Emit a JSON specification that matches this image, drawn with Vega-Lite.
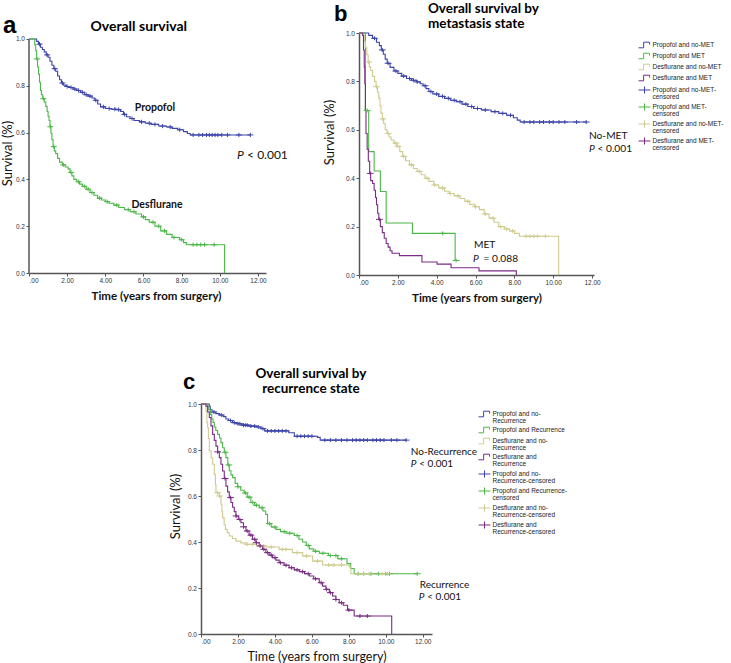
{
"$schema": "https://vega.github.io/schema/vega-lite/v6.json",
"background": "white",
"padding": {"left": 1, "top": 1, "right": 0, "bottom": 0},
"config": {
  "view": {"stroke": null},
  "font": "Lato",
  "style": {"guide-label": {"lineHeight": 6.5}},
  "axis": {"domainColor": "#555", "domainWidth": 1.5, "tickColor": "#555", "tickSize": 3, "tickWidth": 1, "labelFont": "Liberation Sans", "labelFontSize": 6.5, "labelColor": "#333", "labelPadding": 1.5, "grid": false, "titleFont": "Lato", "titleColor": "#111", "titleFontWeight": "normal", "titleFontSize": 13}
},
"datasets": {
"a_line": [
{"k":"P","t":0,"s":1},{"k":"P","t":0.32,"s":1},{"k":"P","t":0.4,"s":0.99},{"k":"P","t":0.5,"s":0.978},{"k":"P","t":0.6,"s":0.965},{"k":"P","t":0.7,"s":0.955},{"k":"P","t":0.8,"s":0.945},{"k":"P","t":0.9,"s":0.932},{"k":"P","t":1.0,"s":0.922},{"k":"P","t":1.1,"s":0.905},{"k":"P","t":1.2,"s":0.888},{"k":"P","t":1.3,"s":0.873},{"k":"P","t":1.4,"s":0.862},{"k":"P","t":1.5,"s":0.842},{"k":"P","t":1.6,"s":0.826},{"k":"P","t":1.7,"s":0.812},{"k":"P","t":1.8,"s":0.803},{"k":"P","t":1.95,"s":0.797},{"k":"P","t":2.1,"s":0.793},{"k":"P","t":2.3,"s":0.786},{"k":"P","t":2.5,"s":0.78},{"k":"P","t":2.7,"s":0.772},{"k":"P","t":2.9,"s":0.762},{"k":"P","t":3.1,"s":0.756},{"k":"P","t":3.3,"s":0.748},{"k":"P","t":3.45,"s":0.738},{"k":"P","t":3.6,"s":0.722},{"k":"P","t":3.75,"s":0.71},{"k":"P","t":4.0,"s":0.703},{"k":"P","t":4.3,"s":0.7},{"k":"P","t":4.6,"s":0.698},{"k":"P","t":4.8,"s":0.69},{"k":"P","t":4.95,"s":0.678},{"k":"P","t":5.1,"s":0.668},{"k":"P","t":5.3,"s":0.66},{"k":"P","t":5.5,"s":0.652},{"k":"P","t":5.8,"s":0.646},{"k":"P","t":6.1,"s":0.64},{"k":"P","t":6.4,"s":0.635},{"k":"P","t":6.8,"s":0.628},{"k":"P","t":7.2,"s":0.624},{"k":"P","t":7.5,"s":0.618},{"k":"P","t":7.8,"s":0.612},{"k":"P","t":8.1,"s":0.604},{"k":"P","t":8.3,"s":0.596},{"k":"P","t":8.45,"s":0.59},{"k":"P","t":11.6,"s":0.59},
{"k":"D","t":0,"s":1},{"k":"D","t":0.26,"s":1},{"k":"D","t":0.3,"s":0.975},{"k":"D","t":0.35,"s":0.95},{"k":"D","t":0.4,"s":0.915},{"k":"D","t":0.45,"s":0.88},{"k":"D","t":0.5,"s":0.85},{"k":"D","t":0.55,"s":0.815},{"k":"D","t":0.6,"s":0.78},{"k":"D","t":0.65,"s":0.762},{"k":"D","t":0.72,"s":0.745},{"k":"D","t":0.8,"s":0.73},{"k":"D","t":0.88,"s":0.712},{"k":"D","t":0.95,"s":0.69},{"k":"D","t":1.0,"s":0.67},{"k":"D","t":1.05,"s":0.652},{"k":"D","t":1.1,"s":0.625},{"k":"D","t":1.15,"s":0.597},{"k":"D","t":1.2,"s":0.57},{"k":"D","t":1.26,"s":0.54},{"k":"D","t":1.33,"s":0.522},{"k":"D","t":1.4,"s":0.51},{"k":"D","t":1.5,"s":0.49},{"k":"D","t":1.6,"s":0.474},{"k":"D","t":1.75,"s":0.462},{"k":"D","t":1.9,"s":0.453},{"k":"D","t":2.05,"s":0.445},{"k":"D","t":2.15,"s":0.43},{"k":"D","t":2.25,"s":0.415},{"k":"D","t":2.35,"s":0.4},{"k":"D","t":2.5,"s":0.39},{"k":"D","t":2.65,"s":0.38},{"k":"D","t":2.8,"s":0.37},{"k":"D","t":3.0,"s":0.358},{"k":"D","t":3.2,"s":0.344},{"k":"D","t":3.4,"s":0.332},{"k":"D","t":3.6,"s":0.32},{"k":"D","t":3.8,"s":0.312},{"k":"D","t":4.0,"s":0.305},{"k":"D","t":4.2,"s":0.298},{"k":"D","t":4.45,"s":0.29},{"k":"D","t":4.7,"s":0.28},{"k":"D","t":5.0,"s":0.271},{"k":"D","t":5.3,"s":0.262},{"k":"D","t":5.6,"s":0.252},{"k":"D","t":5.9,"s":0.24},{"k":"D","t":6.1,"s":0.228},{"k":"D","t":6.3,"s":0.217},{"k":"D","t":6.6,"s":0.2},{"k":"D","t":6.9,"s":0.18},{"k":"D","t":7.2,"s":0.165},{"k":"D","t":7.5,"s":0.152},{"k":"D","t":7.9,"s":0.142},{"k":"D","t":8.1,"s":0.13},{"k":"D","t":8.25,"s":0.121},{"k":"D","t":10.25,"s":0}
],
"a_cens": [
{"k":"P","t":0.55,"s":0.978},{"k":"P","t":0.95,"s":0.932},{"k":"P","t":1.35,"s":0.873},{"k":"P","t":1.75,"s":0.812},{"k":"P","t":2.0,"s":0.797},{"k":"P","t":2.2,"s":0.793},{"k":"P","t":2.4,"s":0.786},{"k":"P","t":2.6,"s":0.78},{"k":"P","t":2.8,"s":0.772},{"k":"P","t":3.0,"s":0.762},{"k":"P","t":3.2,"s":0.756},{"k":"P","t":3.5,"s":0.738},{"k":"P","t":3.9,"s":0.71},{"k":"P","t":4.2,"s":0.703},{"k":"P","t":4.5,"s":0.7},{"k":"P","t":4.7,"s":0.698},{"k":"P","t":5.0,"s":0.678},{"k":"P","t":5.4,"s":0.66},{"k":"P","t":5.9,"s":0.646},{"k":"P","t":6.3,"s":0.64},{"k":"P","t":6.6,"s":0.635},{"k":"P","t":7.0,"s":0.628},{"k":"P","t":7.4,"s":0.624},{"k":"P","t":7.9,"s":0.612},{"k":"P","t":8.6,"s":0.59},{"k":"P","t":8.9,"s":0.59},{"k":"P","t":9.1,"s":0.59},{"k":"P","t":9.3,"s":0.59},{"k":"P","t":9.45,"s":0.59},{"k":"P","t":9.6,"s":0.59},{"k":"P","t":9.75,"s":0.59},{"k":"P","t":9.9,"s":0.59},{"k":"P","t":10.1,"s":0.59},{"k":"P","t":10.4,"s":0.59},{"k":"P","t":11.0,"s":0.59},{"k":"P","t":11.6,"s":0.59},
{"k":"D","t":0.42,"s":0.915},{"k":"D","t":0.75,"s":0.745},{"k":"D","t":1.12,"s":0.625},{"k":"D","t":1.3,"s":0.54},{"k":"D","t":1.8,"s":0.462},{"k":"D","t":2.2,"s":0.43},{"k":"D","t":2.6,"s":0.39},{"k":"D","t":2.9,"s":0.37},{"k":"D","t":3.1,"s":0.358},{"k":"D","t":3.3,"s":0.344},{"k":"D","t":3.7,"s":0.32},{"k":"D","t":4.1,"s":0.305},{"k":"D","t":4.6,"s":0.29},{"k":"D","t":5.2,"s":0.271},{"k":"D","t":5.5,"s":0.262},{"k":"D","t":6.0,"s":0.24},{"k":"D","t":6.5,"s":0.217},{"k":"D","t":6.8,"s":0.2},{"k":"D","t":7.1,"s":0.18},{"k":"D","t":7.6,"s":0.152},{"k":"D","t":8.0,"s":0.142},{"k":"D","t":8.6,"s":0.121},{"k":"D","t":8.8,"s":0.121},{"k":"D","t":9.0,"s":0.121},{"k":"D","t":9.2,"s":0.121},{"k":"D","t":9.7,"s":0.121}
],
"b_line": [
{"k":"P0","t":0,"s":1},{"k":"P0","t":0.36,"s":1},{"k":"P0","t":0.5,"s":0.99},{"k":"P0","t":0.7,"s":0.978},{"k":"P0","t":0.9,"s":0.962},{"k":"P0","t":1.05,"s":0.948},{"k":"P0","t":1.15,"s":0.93},{"k":"P0","t":1.25,"s":0.912},{"k":"P0","t":1.35,"s":0.892},{"k":"P0","t":1.45,"s":0.875},{"k":"P0","t":1.6,"s":0.858},{"k":"P0","t":1.8,"s":0.843},{"k":"P0","t":2.0,"s":0.833},{"k":"P0","t":2.2,"s":0.822},{"k":"P0","t":2.45,"s":0.812},{"k":"P0","t":2.7,"s":0.805},{"k":"P0","t":2.95,"s":0.798},{"k":"P0","t":3.15,"s":0.79},{"k":"P0","t":3.3,"s":0.782},{"k":"P0","t":3.45,"s":0.77},{"k":"P0","t":3.6,"s":0.758},{"k":"P0","t":3.8,"s":0.748},{"k":"P0","t":4.1,"s":0.738},{"k":"P0","t":4.4,"s":0.73},{"k":"P0","t":4.7,"s":0.722},{"k":"P0","t":5.0,"s":0.716},{"k":"P0","t":5.3,"s":0.706},{"k":"P0","t":5.6,"s":0.696},{"k":"P0","t":5.9,"s":0.688},{"k":"P0","t":6.3,"s":0.682},{"k":"P0","t":6.8,"s":0.675},{"k":"P0","t":7.2,"s":0.668},{"k":"P0","t":7.6,"s":0.66},{"k":"P0","t":7.95,"s":0.65},{"k":"P0","t":8.15,"s":0.64},{"k":"P0","t":8.3,"s":0.632},{"k":"P0","t":11.7,"s":0.632},
{"k":"P1","t":0,"s":1},{"k":"P1","t":0.33,"s":0.68},{"k":"P1","t":0.5,"s":0.51},{"k":"P1","t":0.78,"s":0.43},{"k":"P1","t":1.1,"s":0.345},{"k":"P1","t":1.4,"s":0.215},{"k":"P1","t":2.75,"s":0.172},{"k":"P1","t":4.95,"s":0.06},{"k":"P1","t":5.0,"s":0.06},
{"k":"D0","t":0,"s":1},{"k":"D0","t":0.2,"s":0.99},{"k":"D0","t":0.27,"s":0.965},{"k":"D0","t":0.33,"s":0.94},{"k":"D0","t":0.4,"s":0.91},{"k":"D0","t":0.47,"s":0.88},{"k":"D0","t":0.53,"s":0.86},{"k":"D0","t":0.6,"s":0.845},{"k":"D0","t":0.7,"s":0.82},{"k":"D0","t":0.8,"s":0.8},{"k":"D0","t":0.88,"s":0.778},{"k":"D0","t":0.95,"s":0.755},{"k":"D0","t":1.02,"s":0.73},{"k":"D0","t":1.08,"s":0.7},{"k":"D0","t":1.13,"s":0.668},{"k":"D0","t":1.2,"s":0.645},{"k":"D0","t":1.27,"s":0.625},{"k":"D0","t":1.35,"s":0.6},{"k":"D0","t":1.45,"s":0.585},{"k":"D0","t":1.55,"s":0.57},{"k":"D0","t":1.65,"s":0.558},{"k":"D0","t":1.8,"s":0.545},{"k":"D0","t":1.95,"s":0.532},{"k":"D0","t":2.1,"s":0.51},{"k":"D0","t":2.25,"s":0.49},{"k":"D0","t":2.4,"s":0.472},{"k":"D0","t":2.6,"s":0.455},{"k":"D0","t":2.8,"s":0.44},{"k":"D0","t":3.0,"s":0.428},{"k":"D0","t":3.2,"s":0.414},{"k":"D0","t":3.4,"s":0.4},{"k":"D0","t":3.6,"s":0.387},{"k":"D0","t":3.85,"s":0.372},{"k":"D0","t":4.1,"s":0.36},{"k":"D0","t":4.4,"s":0.346},{"k":"D0","t":4.65,"s":0.337},{"k":"D0","t":4.9,"s":0.327},{"k":"D0","t":5.2,"s":0.316},{"k":"D0","t":5.45,"s":0.305},{"k":"D0","t":5.7,"s":0.292},{"k":"D0","t":5.95,"s":0.282},{"k":"D0","t":6.2,"s":0.27},{"k":"D0","t":6.45,"s":0.252},{"k":"D0","t":6.7,"s":0.235},{"k":"D0","t":6.95,"s":0.218},{"k":"D0","t":7.2,"s":0.2},{"k":"D0","t":7.5,"s":0.19},{"k":"D0","t":7.75,"s":0.182},{"k":"D0","t":8.0,"s":0.172},{"k":"D0","t":8.25,"s":0.16},{"k":"D0","t":10.28,"s":0},
{"k":"D1","t":0,"s":1},{"k":"D1","t":0.19,"s":0.99},{"k":"D1","t":0.23,"s":0.93},{"k":"D1","t":0.27,"s":0.86},{"k":"D1","t":0.3,"s":0.79},{"k":"D1","t":0.33,"s":0.68},{"k":"D1","t":0.36,"s":0.585},{"k":"D1","t":0.42,"s":0.52},{"k":"D1","t":0.48,"s":0.47},{"k":"D1","t":0.55,"s":0.42},{"k":"D1","t":0.6,"s":0.39},{"k":"D1","t":0.7,"s":0.378},{"k":"D1","t":0.78,"s":0.35},{"k":"D1","t":0.85,"s":0.32},{"k":"D1","t":0.9,"s":0.29},{"k":"D1","t":0.96,"s":0.255},{"k":"D1","t":1.02,"s":0.23},{"k":"D1","t":1.1,"s":0.2},{"k":"D1","t":1.2,"s":0.175},{"k":"D1","t":1.3,"s":0.152},{"k":"D1","t":1.4,"s":0.13},{"k":"D1","t":1.5,"s":0.115},{"k":"D1","t":1.6,"s":0.1},{"k":"D1","t":1.7,"s":0.09},{"k":"D1","t":2.08,"s":0.08},{"k":"D1","t":3.24,"s":0.054},{"k":"D1","t":4.02,"s":0.045},{"k":"D1","t":4.74,"s":0.03},{"k":"D1","t":6.18,"s":0.017},{"k":"D1","t":8.1,"s":0}
],
"b_cens": [
{"k":"P0c","t":0.8,"s":0.978},{"k":"P0c","t":1.2,"s":0.93},{"k":"P0c","t":1.5,"s":0.875},{"k":"P0c","t":1.9,"s":0.843},{"k":"P0c","t":2.3,"s":0.822},{"k":"P0c","t":2.6,"s":0.812},{"k":"P0c","t":2.8,"s":0.805},{"k":"P0c","t":3.0,"s":0.798},{"k":"P0c","t":3.4,"s":0.782},{"k":"P0c","t":3.7,"s":0.758},{"k":"P0c","t":4.0,"s":0.748},{"k":"P0c","t":4.3,"s":0.738},{"k":"P0c","t":4.6,"s":0.73},{"k":"P0c","t":4.9,"s":0.722},{"k":"P0c","t":5.2,"s":0.716},{"k":"P0c","t":5.5,"s":0.706},{"k":"P0c","t":5.8,"s":0.696},{"k":"P0c","t":6.1,"s":0.688},{"k":"P0c","t":6.5,"s":0.682},{"k":"P0c","t":7.0,"s":0.675},{"k":"P0c","t":7.4,"s":0.668},{"k":"P0c","t":7.8,"s":0.66},{"k":"P0c","t":8.5,"s":0.632},{"k":"P0c","t":8.8,"s":0.632},{"k":"P0c","t":9.0,"s":0.632},{"k":"P0c","t":9.3,"s":0.632},{"k":"P0c","t":9.5,"s":0.632},{"k":"P0c","t":9.8,"s":0.632},{"k":"P0c","t":10.0,"s":0.632},{"k":"P0c","t":10.3,"s":0.632},{"k":"P0c","t":10.6,"s":0.632},{"k":"P0c","t":11.2,"s":0.632},{"k":"P0c","t":11.7,"s":0.632},
{"k":"P1c","t":0.42,"s":0.68},{"k":"P1c","t":4.31,"s":0.172},{"k":"P1c","t":5.0,"s":0.06},
{"k":"D0c","t":0.5,"s":0.88},{"k":"D0c","t":0.9,"s":0.778},{"k":"D0c","t":1.22,"s":0.645},{"k":"D0c","t":1.5,"s":0.585},{"k":"D0c","t":1.9,"s":0.545},{"k":"D0c","t":2.0,"s":0.532},{"k":"D0c","t":2.3,"s":0.49},{"k":"D0c","t":2.7,"s":0.455},{"k":"D0c","t":3.1,"s":0.428},{"k":"D0c","t":3.5,"s":0.4},{"k":"D0c","t":3.9,"s":0.372},{"k":"D0c","t":4.3,"s":0.36},{"k":"D0c","t":4.7,"s":0.337},{"k":"D0c","t":5.1,"s":0.327},{"k":"D0c","t":5.6,"s":0.305},{"k":"D0c","t":6.0,"s":0.282},{"k":"D0c","t":6.5,"s":0.252},{"k":"D0c","t":6.9,"s":0.235},{"k":"D0c","t":7.3,"s":0.2},{"k":"D0c","t":7.6,"s":0.19},{"k":"D0c","t":7.9,"s":0.182},{"k":"D0c","t":8.6,"s":0.16},{"k":"D0c","t":8.8,"s":0.16},{"k":"D0c","t":9.0,"s":0.16},{"k":"D0c","t":9.2,"s":0.16},{"k":"D0c","t":9.6,"s":0.16},
{"k":"D1c","t":0.58,"s":0.42},{"k":"D1c","t":1.05,"s":0.23}
],
"c_line": [
{"k":"P0","t":0,"s":1},{"k":"P0","t":0.45,"s":0.99},{"k":"P0","t":0.5,"s":0.975},{"k":"P0","t":0.6,"s":0.965},{"k":"P0","t":0.8,"s":0.958},{"k":"P0","t":1.0,"s":0.952},{"k":"P0","t":1.2,"s":0.945},{"k":"P0","t":1.35,"s":0.935},{"k":"P0","t":1.5,"s":0.928},{"k":"P0","t":1.7,"s":0.919},{"k":"P0","t":1.95,"s":0.914},{"k":"P0","t":2.2,"s":0.908},{"k":"P0","t":2.6,"s":0.904},{"k":"P0","t":3.0,"s":0.9},{"k":"P0","t":3.25,"s":0.893},{"k":"P0","t":3.45,"s":0.883},{"k":"P0","t":4.75,"s":0.875},{"k":"P0","t":5.05,"s":0.86},{"k":"P0","t":6.3,"s":0.855},{"k":"P0","t":6.45,"s":0.843},{"k":"P0","t":11.1,"s":0.843},
{"k":"P1","t":0,"s":1},{"k":"P1","t":0.36,"s":0.99},{"k":"P1","t":0.42,"s":0.975},{"k":"P1","t":0.5,"s":0.955},{"k":"P1","t":0.58,"s":0.935},{"k":"P1","t":0.65,"s":0.92},{"k":"P1","t":0.72,"s":0.9},{"k":"P1","t":0.8,"s":0.885},{"k":"P1","t":0.9,"s":0.868},{"k":"P1","t":1.0,"s":0.852},{"k":"P1","t":1.08,"s":0.832},{"k":"P1","t":1.17,"s":0.81},{"k":"P1","t":1.26,"s":0.79},{"k":"P1","t":1.35,"s":0.767},{"k":"P1","t":1.45,"s":0.735},{"k":"P1","t":1.53,"s":0.71},{"k":"P1","t":1.62,"s":0.692},{"k":"P1","t":1.71,"s":0.68},{"k":"P1","t":1.85,"s":0.655},{"k":"P1","t":1.98,"s":0.64},{"k":"P1","t":2.15,"s":0.625},{"k":"P1","t":2.34,"s":0.613},{"k":"P1","t":2.5,"s":0.595},{"k":"P1","t":2.7,"s":0.572},{"k":"P1","t":2.9,"s":0.56},{"k":"P1","t":3.15,"s":0.549},{"k":"P1","t":3.35,"s":0.535},{"k":"P1","t":3.5,"s":0.52},{"k":"P1","t":3.6,"s":0.48},{"k":"P1","t":3.8,"s":0.465},{"k":"P1","t":4.05,"s":0.455},{"k":"P1","t":4.3,"s":0.445},{"k":"P1","t":4.6,"s":0.438},{"k":"P1","t":5.05,"s":0.428},{"k":"P1","t":5.3,"s":0.412},{"k":"P1","t":5.5,"s":0.4},{"k":"P1","t":5.7,"s":0.385},{"k":"P1","t":5.86,"s":0.37},{"k":"P1","t":6.1,"s":0.36},{"k":"P1","t":6.4,"s":0.351},{"k":"P1","t":6.9,"s":0.341},{"k":"P1","t":7.4,"s":0.327},{"k":"P1","t":7.9,"s":0.306},{"k":"P1","t":8.1,"s":0.285},{"k":"P1","t":8.29,"s":0.262},{"k":"P1","t":11.7,"s":0.262},
{"k":"D0","t":0,"s":1},{"k":"D0","t":0.27,"s":0.97},{"k":"D0","t":0.32,"s":0.92},{"k":"D0","t":0.36,"s":0.897},{"k":"D0","t":0.4,"s":0.85},{"k":"D0","t":0.45,"s":0.796},{"k":"D0","t":0.55,"s":0.765},{"k":"D0","t":0.63,"s":0.738},{"k":"D0","t":0.72,"s":0.694},{"k":"D0","t":0.78,"s":0.65},{"k":"D0","t":0.81,"s":0.614},{"k":"D0","t":0.99,"s":0.6},{"k":"D0","t":1.08,"s":0.564},{"k":"D0","t":1.13,"s":0.535},{"k":"D0","t":1.17,"s":0.506},{"k":"D0","t":1.25,"s":0.475},{"k":"D0","t":1.32,"s":0.455},{"k":"D0","t":1.42,"s":0.44},{"k":"D0","t":1.53,"s":0.426},{"k":"D0","t":1.7,"s":0.415},{"k":"D0","t":1.89,"s":0.404},{"k":"D0","t":2.15,"s":0.396},{"k":"D0","t":2.43,"s":0.39},{"k":"D0","t":3.0,"s":0.383},{"k":"D0","t":3.51,"s":0.378},{"k":"D0","t":4.23,"s":0.368},{"k":"D0","t":4.95,"s":0.354},{"k":"D0","t":5.5,"s":0.339},{"k":"D0","t":6.04,"s":0.317},{"k":"D0","t":6.58,"s":0.3},{"k":"D0","t":8.02,"s":0.291},{"k":"D0","t":8.11,"s":0.262},{"k":"D0","t":10.1,"s":0.262},
{"k":"D1","t":0,"s":1},{"k":"D1","t":0.27,"s":0.99},{"k":"D1","t":0.36,"s":0.965},{"k":"D1","t":0.45,"s":0.941},{"k":"D1","t":0.54,"s":0.905},{"k":"D1","t":0.63,"s":0.868},{"k":"D1","t":0.72,"s":0.842},{"k":"D1","t":0.81,"s":0.817},{"k":"D1","t":0.9,"s":0.792},{"k":"D1","t":0.99,"s":0.767},{"k":"D1","t":1.08,"s":0.738},{"k":"D1","t":1.17,"s":0.709},{"k":"D1","t":1.26,"s":0.676},{"k":"D1","t":1.35,"s":0.643},{"k":"D1","t":1.44,"s":0.618},{"k":"D1","t":1.53,"s":0.593},{"k":"D1","t":1.62,"s":0.572},{"k":"D1","t":1.71,"s":0.551},{"k":"D1","t":1.8,"s":0.532},{"k":"D1","t":1.89,"s":0.513},{"k":"D1","t":2.02,"s":0.498},{"k":"D1","t":2.16,"s":0.484},{"k":"D1","t":2.3,"s":0.466},{"k":"D1","t":2.43,"s":0.448},{"k":"D1","t":2.6,"s":0.43},{"k":"D1","t":2.79,"s":0.412},{"k":"D1","t":2.97,"s":0.397},{"k":"D1","t":3.15,"s":0.383},{"k":"D1","t":3.33,"s":0.368},{"k":"D1","t":3.51,"s":0.354},{"k":"D1","t":3.69,"s":0.343},{"k":"D1","t":3.87,"s":0.332},{"k":"D1","t":4.05,"s":0.321},{"k":"D1","t":4.23,"s":0.31},{"k":"D1","t":4.5,"s":0.299},{"k":"D1","t":4.77,"s":0.288},{"k":"D1","t":5.05,"s":0.279},{"k":"D1","t":5.32,"s":0.271},{"k":"D1","t":5.6,"s":0.262},{"k":"D1","t":5.86,"s":0.252},{"k":"D1","t":6.1,"s":0.24},{"k":"D1","t":6.4,"s":0.223},{"k":"D1","t":6.58,"s":0.208},{"k":"D1","t":6.76,"s":0.194},{"k":"D1","t":6.94,"s":0.18},{"k":"D1","t":7.12,"s":0.165},{"k":"D1","t":7.3,"s":0.15},{"k":"D1","t":7.48,"s":0.136},{"k":"D1","t":7.7,"s":0.125},{"k":"D1","t":7.93,"s":0.104},{"k":"D1","t":8.29,"s":0.078},{"k":"D1","t":10.32,"s":0}
],
"c_cens": [
{"k":"P0c","t":0.7,"s":0.965},{"k":"P0c","t":1.1,"s":0.952},{"k":"P0c","t":1.6,"s":0.928},{"k":"P0c","t":1.8,"s":0.919},{"k":"P0c","t":2.0,"s":0.914},{"k":"P0c","t":2.1,"s":0.914},{"k":"P0c","t":2.3,"s":0.908},{"k":"P0c","t":2.4,"s":0.908},{"k":"P0c","t":2.5,"s":0.908},{"k":"P0c","t":2.7,"s":0.904},{"k":"P0c","t":2.9,"s":0.904},{"k":"P0c","t":3.1,"s":0.9},{"k":"P0c","t":3.35,"s":0.893},{"k":"P0c","t":3.6,"s":0.883},{"k":"P0c","t":3.8,"s":0.883},{"k":"P0c","t":4.0,"s":0.883},{"k":"P0c","t":4.2,"s":0.883},{"k":"P0c","t":4.4,"s":0.883},{"k":"P0c","t":4.6,"s":0.883},{"k":"P0c","t":5.2,"s":0.86},{"k":"P0c","t":5.4,"s":0.86},{"k":"P0c","t":5.6,"s":0.86},{"k":"P0c","t":5.8,"s":0.86},{"k":"P0c","t":6.0,"s":0.86},{"k":"P0c","t":6.7,"s":0.843},{"k":"P0c","t":7.0,"s":0.843},{"k":"P0c","t":7.3,"s":0.843},{"k":"P0c","t":7.6,"s":0.843},{"k":"P0c","t":7.9,"s":0.843},{"k":"P0c","t":8.2,"s":0.843},{"k":"P0c","t":8.4,"s":0.843},{"k":"P0c","t":8.6,"s":0.843},{"k":"P0c","t":8.8,"s":0.843},{"k":"P0c","t":9.0,"s":0.843},{"k":"P0c","t":9.3,"s":0.843},{"k":"P0c","t":9.5,"s":0.843},{"k":"P0c","t":9.7,"s":0.843},{"k":"P0c","t":9.9,"s":0.843},{"k":"P0c","t":10.3,"s":0.843},{"k":"P0c","t":10.6,"s":0.843},{"k":"P0c","t":11.1,"s":0.843},
{"k":"P1c","t":1.3,"s":0.79},{"k":"P1c","t":1.5,"s":0.735},{"k":"P1c","t":2.0,"s":0.64},{"k":"P1c","t":2.4,"s":0.613},{"k":"P1c","t":2.6,"s":0.595},{"k":"P1c","t":2.8,"s":0.572},{"k":"P1c","t":3.0,"s":0.56},{"k":"P1c","t":3.3,"s":0.549},{"k":"P1c","t":3.7,"s":0.48},{"k":"P1c","t":4.0,"s":0.465},{"k":"P1c","t":4.5,"s":0.445},{"k":"P1c","t":4.8,"s":0.438},{"k":"P1c","t":5.2,"s":0.428},{"k":"P1c","t":5.8,"s":0.385},{"k":"P1c","t":6.2,"s":0.36},{"k":"P1c","t":6.6,"s":0.351},{"k":"P1c","t":7.0,"s":0.341},{"k":"P1c","t":7.3,"s":0.341},{"k":"P1c","t":7.6,"s":0.327},{"k":"P1c","t":8.5,"s":0.262},{"k":"P1c","t":8.8,"s":0.262},{"k":"P1c","t":9.2,"s":0.262},{"k":"P1c","t":9.6,"s":0.262},{"k":"P1c","t":10.0,"s":0.262},{"k":"P1c","t":10.2,"s":0.262},{"k":"P1c","t":11.7,"s":0.262},
{"k":"D0c","t":0.9,"s":0.614},{"k":"D0c","t":1.0,"s":0.6},{"k":"D0c","t":2.5,"s":0.39},{"k":"D0c","t":2.8,"s":0.39},{"k":"D0c","t":3.2,"s":0.383},{"k":"D0c","t":3.4,"s":0.383},{"k":"D0c","t":3.8,"s":0.378},{"k":"D0c","t":4.4,"s":0.368},{"k":"D0c","t":4.6,"s":0.368},{"k":"D0c","t":5.2,"s":0.354},{"k":"D0c","t":5.7,"s":0.339},{"k":"D0c","t":6.3,"s":0.317},{"k":"D0c","t":6.9,"s":0.3},{"k":"D0c","t":7.2,"s":0.3},{"k":"D0c","t":7.6,"s":0.3},{"k":"D0c","t":8.5,"s":0.262},{"k":"D0c","t":8.8,"s":0.262},{"k":"D0c","t":9.1,"s":0.262},{"k":"D0c","t":9.8,"s":0.262},{"k":"D0c","t":10.1,"s":0.262},
{"k":"D1c","t":0.9,"s":0.792},{"k":"D1c","t":1.3,"s":0.676},{"k":"D1c","t":1.6,"s":0.593},{"k":"D1c","t":1.9,"s":0.513},{"k":"D1c","t":2.1,"s":0.498},{"k":"D1c","t":2.3,"s":0.466},{"k":"D1c","t":2.5,"s":0.448},{"k":"D1c","t":2.7,"s":0.43},{"k":"D1c","t":2.9,"s":0.412},{"k":"D1c","t":3.0,"s":0.397},{"k":"D1c","t":3.2,"s":0.383},{"k":"D1c","t":3.4,"s":0.368},{"k":"D1c","t":3.6,"s":0.354},{"k":"D1c","t":3.8,"s":0.343},{"k":"D1c","t":4.0,"s":0.332},{"k":"D1c","t":4.3,"s":0.31},{"k":"D1c","t":4.6,"s":0.299},{"k":"D1c","t":4.9,"s":0.288},{"k":"D1c","t":5.2,"s":0.279},{"k":"D1c","t":5.5,"s":0.271},{"k":"D1c","t":5.8,"s":0.262},{"k":"D1c","t":6.2,"s":0.24},{"k":"D1c","t":6.5,"s":0.223},{"k":"D1c","t":6.8,"s":0.194},{"k":"D1c","t":7.0,"s":0.18},{"k":"D1c","t":7.3,"s":0.15},{"k":"D1c","t":7.6,"s":0.136},{"k":"D1c","t":8.0,"s":0.104},{"k":"D1c","t":8.6,"s":0.078},{"k":"D1c","t":9.0,"s":0.078}
]
},
"spacing": 62,
"resolve": {"scale": {"color": "independent", "shape": "independent"}, "legend": {"color": "independent", "shape": "independent"}},
"vconcat": [
{
"hconcat": [
{
  "width": 237, "height": 240,
  "encoding": {
    "x": {"field": "t", "type": "quantitative", "scale": {"domain": [0, 12.42], "nice": false, "zero": false},
      "axis": {"title": "Time (years from surgery)", "titleFontWeight": "bold", "titleFontSize": 11.5, "titleX": 127, "titlePadding": 6, "values": [0,2,4,6,8,10,12], "labelExpr": "datum.value == 0 ? '.00' : format(datum.value, '.2f')"}},
    "y": {"field": "s", "type": "quantitative", "scale": {"domain": [0, 1.0256], "nice": false},
      "axis": {"title": "Survival (%)", "values": [0,0.2,0.4,0.6,0.8,1], "format": ".1f", "domain": false, "titlePadding": 1}}
  },
  "layer": [
    {"data": {"values": [{"t": 0, "s": 0, "s2": 1}]}, "mark": {"type": "rule", "color": "#555", "strokeWidth": 1.5}, "encoding": {"y2": {"field": "s2"}}},
    {"data": {"name": "a_line"}, "mark": {"type": "line", "interpolate": "step-after", "strokeWidth": 1.1},
     "encoding": {"color": {"field": "k", "type": "nominal", "scale": {"domain": ["P","D"], "range": ["#3c44aa","#4cb848"]}, "legend": null}}},
    {"data": {"name": "a_cens"}, "mark": {"type": "point", "shape": "M-1,0H1M0,-0.7V0.7", "size": 36, "filled": false, "opacity": 1, "strokeWidth": 1},
     "encoding": {"color": {"field": "k", "type": "nominal", "scale": {"domain": ["P","D"], "range": ["#3c44aa","#4cb848"]}, "legend": null}}},
    {"data": {"values": [{"t": -1.36, "s": 1.026, "txt": "a"}]}, "mark": {"type": "text", "font": "Liberation Sans", "fontWeight": "bold", "fontSize": 24, "align": "left", "baseline": "alphabetic", "color": "#000"}, "encoding": {"text": {"field": "txt"}}},
    {"data": {"values": [{"t": 5.75, "s": 1.034, "txt": "Overall survival"}]}, "mark": {"type": "text", "font": "Lato", "fontWeight": "bold", "fontSize": 14, "align": "center", "baseline": "alphabetic", "color": "#000"}, "encoding": {"text": {"field": "txt"}}},
    {"data": {"values": [{"t": 6.6, "s": 0.692, "txt": "Propofol"}, {"t": 6.71, "s": 0.278, "txt": "Desflurane"}]}, "mark": {"type": "text", "font": "Lato", "fontWeight": "bold", "fontSize": 10.5, "align": "center", "baseline": "alphabetic", "color": "#111"}, "encoding": {"text": {"field": "txt"}}},
    {"data": {"values": [{"t": 10.9, "s": 0.487, "txt": "P"}]}, "mark": {"type": "text", "font": "Lato", "fontStyle": "italic", "fontSize": 12, "align": "left", "baseline": "alphabetic", "color": "#111"}, "encoding": {"text": {"field": "txt"}}},
    {"data": {"values": [{"t": 11.43, "s": 0.487, "txt": "< 0.001"}]}, "mark": {"type": "text", "font": "Lato", "fontSize": 12, "align": "left", "baseline": "alphabetic", "color": "#111"}, "encoding": {"text": {"field": "txt"}}}
  ]
},
{
  "width": 235, "height": 242,
  "encoding": {
    "x": {"field": "t", "type": "quantitative", "scale": {"domain": [0, 12.1], "nice": false, "zero": false},
      "axis": {"title": "Time (years from surgery)", "titleFontWeight": "bold", "titleFontSize": 11.5, "titlePadding": 6, "values": [0,2,4,6,8,10,12], "labelExpr": "datum.value == 0 ? '.00' : format(datum.value, '.2f')"}},
    "y": {"field": "s", "type": "quantitative", "scale": {"domain": [0, 1], "nice": false},
      "axis": {"title": "Survival (%)", "values": [0,0.2,0.4,0.6,0.8,1], "format": ".1f", "titlePadding": 9, "titleY": 99}}
  },
  "layer": [
    {"data": {"name": "b_line"}, "mark": {"type": "line", "interpolate": "step-after", "strokeWidth": 1.1},
     "encoding": {"color": {"field": "k", "type": "nominal", "scale": {"domain": ["P0","P1","D0","D1","P0c","P1c","D0c","D1c"], "range": ["#3c44aa","#4cb848","#cfcb8f","#7b2b85","#3c44aa","#4cb848","#cfcb8f","#7b2b85"]},
       "legend": {"orient": "none", "legendX": 281.5, "legendY": 8, "title": null, "padding": 0, "symbolSize": 49, "symbolStrokeWidth": 1, "symbolFillColor": "transparent", "labelFont": "Liberation Sans", "labelFontSize": 6.5, "labelColor": "#222", "labelOffset": 4, "rowPadding": 1, "labelLimit": 0,
         "labelExpr": "datum.label == 'P0' ? 'Propofol and no-MET' : datum.label == 'P1' ? 'Propofol and MET' : datum.label == 'D0' ? 'Desflurane and no-MET' : datum.label == 'D1' ? 'Desflurane and MET' : datum.label == 'P0c' ? ['Propofol and no-MET-', 'censored'] : datum.label == 'P1c' ? ['Propofol and MET-', 'censored'] : datum.label == 'D0c' ? ['Desflurane and no-MET-', 'censored'] : ['Desflurane and MET-', 'censored']",
         "encoding": {"symbols": {"update": {"fill": {"value": "transparent"}, "opacity": {"value": 1}}}, "labels": {"update": {"lineHeight": {"value": 6.5}}}}}}}},
    {"data": {"name": "b_cens"}, "mark": {"type": "point", "size": 16, "filled": false, "opacity": 1, "strokeWidth": 1},
     "encoding": {
       "color": {"field": "k", "type": "nominal", "scale": {"domain": ["P0","P1","D0","D1","P0c","P1c","D0c","D1c"], "range": ["#3c44aa","#4cb848","#cfcb8f","#7b2b85","#3c44aa","#4cb848","#cfcb8f","#7b2b85"]}},
       "shape": {"field": "k", "type": "nominal", "scale": {"domain": ["P0","P1","D0","D1","P0c","P1c","D0c","D1c"], "range": ["M-1.7,0.8H-0.25V-0.8H1.45V-0.1","M-1.7,0.8H-0.25V-0.8H1.45V-0.1","M-1.7,0.8H-0.25V-0.8H1.45V-0.1","M-1.7,0.8H-0.25V-0.8H1.45V-0.1","M-1.7,0H1.7M0,-1V1","M-1.7,0H1.7M0,-1V1","M-1.7,0H1.7M0,-1V1","M-1.7,0H1.7M0,-1V1"]}}}},
    {"data": {"values": [{"t": -1.29, "s": 1.05, "txt": "b"}]}, "mark": {"type": "text", "font": "Liberation Sans", "fontWeight": "bold", "fontSize": 22, "align": "left", "baseline": "alphabetic", "color": "#000"}, "encoding": {"text": {"field": "txt"}}},
    {"data": {"values": [{"t": 3.55, "s": 1.0847, "txt": "Overall survival by"}, {"t": 3.55, "s": 1.0227, "txt": "metastasis state"}]}, "mark": {"type": "text", "font": "Lato", "fontWeight": "bold", "fontSize": 13.5, "align": "left", "baseline": "alphabetic", "color": "#000"}, "encoding": {"text": {"field": "txt"}}},
    {"data": {"values": [{"t": 11.84, "s": 0.562, "txt": "No-MET"}, {"t": 6.41, "s": 0.054, "txt": "= 0.088"}, {"t": 12.28, "s": 0.508, "txt": "< 0.001"}, {"t": 5.92, "s": 0.112, "txt": "MET"}]}, "mark": {"type": "text", "font": "Lato", "fontSize": 10.2, "align": "left", "baseline": "alphabetic", "color": "#111"}, "encoding": {"text": {"field": "txt"}}},
    {"data": {"values": [{"t": 11.84, "s": 0.508, "txt": "P"}, {"t": 5.87, "s": 0.054, "txt": "P"}]}, "mark": {"type": "text", "font": "Lato", "fontStyle": "italic", "fontSize": 10.2, "align": "left", "baseline": "alphabetic", "color": "#111"}, "encoding": {"text": {"field": "txt"}}}
  ]
}
],
"bounds": "flush",
"spacing": 93,
"resolve": {"scale": {"color": "independent", "shape": "independent"}, "legend": {"color": "independent", "shape": "independent"}}
},
{
"hconcat": [
{"width": 79, "height": 10, "data": {"values": []}, "mark": "point"},
{
  "width": 231, "height": 230,
  "encoding": {
    "x": {"field": "t", "type": "quantitative", "scale": {"domain": [0, 12.5], "nice": false, "zero": false},
      "axis": {"title": "Time (years from surgery)", "titleFontSize": 12.5, "titlePadding": 5, "values": [0,2,4,6,8,10,12], "labelExpr": "datum.value == 0 ? '.00' : format(datum.value, '.2f')"}},
    "y": {"field": "s", "type": "quantitative", "scale": {"domain": [0, 1], "nice": false},
      "axis": {"title": "Survival (%)", "values": [0,0.2,0.4,0.6,0.8,1], "format": ".1f", "titlePadding": 5, "titleY": 102}}
  },
  "layer": [
    {"data": {"name": "c_line"}, "mark": {"type": "line", "interpolate": "step-after", "strokeWidth": 1.1},
     "encoding": {"color": {"field": "k", "type": "nominal", "scale": {"domain": ["P0","P1","D0","D1","P0c","P1c","D0c","D1c"], "range": ["#3c44aa","#4cb848","#cfcb8f","#7b2b85","#3c44aa","#4cb848","#cfcb8f","#7b2b85"]},
       "legend": {"orient": "none", "legendX": 279.5, "legendY": 6, "title": null, "padding": 0, "symbolSize": 49, "symbolStrokeWidth": 1, "symbolFillColor": "transparent", "labelFont": "Liberation Sans", "labelFontSize": 6.5, "labelColor": "#222", "labelOffset": 4, "rowPadding": 1, "labelLimit": 0,
         "labelExpr": "datum.label == 'P0' ? ['Propofol and no-', 'Recurrence'] : datum.label == 'P1' ? 'Propofol and Recurrence' : datum.label == 'D0' ? ['Desflurane and no-', 'Recurrence'] : datum.label == 'D1' ? ['Desflurane and', 'Recurrence'] : datum.label == 'P0c' ? ['Propofol and no-', 'Recurrence-censored'] : datum.label == 'P1c' ? ['Propofol and Recurrence-', 'censored'] : datum.label == 'D0c' ? ['Desflurane and no-', 'Recurrence-censored'] : ['Desflurane and', 'Recurrence-censored']",
         "encoding": {"symbols": {"update": {"fill": {"value": "transparent"}, "opacity": {"value": 1}}}, "labels": {"update": {"lineHeight": {"value": 6.5}}}}}}}},
    {"data": {"name": "c_cens"}, "mark": {"type": "point", "size": 16, "filled": false, "opacity": 1, "strokeWidth": 1},
     "encoding": {
       "color": {"field": "k", "type": "nominal", "scale": {"domain": ["P0","P1","D0","D1","P0c","P1c","D0c","D1c"], "range": ["#3c44aa","#4cb848","#cfcb8f","#7b2b85","#3c44aa","#4cb848","#cfcb8f","#7b2b85"]}},
       "shape": {"field": "k", "type": "nominal", "scale": {"domain": ["P0","P1","D0","D1","P0c","P1c","D0c","D1c"], "range": ["M-1.7,0.8H-0.25V-0.8H1.45V-0.1","M-1.7,0.8H-0.25V-0.8H1.45V-0.1","M-1.7,0.8H-0.25V-0.8H1.45V-0.1","M-1.7,0.8H-0.25V-0.8H1.45V-0.1","M-1.7,0H1.7M0,-1V1","M-1.7,0H1.7M0,-1V1","M-1.7,0H1.7M0,-1V1","M-1.7,0H1.7M0,-1V1"]}}}},
    {"data": {"values": [{"t": -0.97, "s": 1.065, "txt": "c"}]}, "mark": {"type": "text", "font": "Liberation Sans", "fontWeight": "bold", "fontSize": 22, "align": "left", "baseline": "alphabetic", "color": "#000"}, "encoding": {"text": {"field": "txt"}}},
    {"data": {"values": [{"t": 5.95, "s": 1.1152, "txt": "Overall survival by"}, {"t": 5.95, "s": 1.0478, "txt": "recurrence state"}]}, "mark": {"type": "text", "font": "Lato", "fontWeight": "bold", "fontSize": 13.5, "align": "center", "baseline": "alphabetic", "color": "#000"}, "encoding": {"text": {"field": "txt"}}},
    {"data": {"values": [{"t": 11.35, "s": 0.78, "txt": "No-Recurrence"}, {"t": 11.81, "s": 0.724, "txt": "< 0.001"}, {"t": 11.84, "s": 0.202, "txt": "Recurrence"}, {"t": 12.24, "s": 0.146, "txt": "< 0.001"}]}, "mark": {"type": "text", "font": "Lato", "fontSize": 10, "align": "left", "baseline": "alphabetic", "color": "#111"}, "encoding": {"text": {"field": "txt"}}},
    {"data": {"values": [{"t": 11.35, "s": 0.724, "txt": "P"}, {"t": 11.78, "s": 0.146, "txt": "P"}]}, "mark": {"type": "text", "font": "Lato", "fontStyle": "italic", "fontSize": 10, "align": "left", "baseline": "alphabetic", "color": "#111"}, "encoding": {"text": {"field": "txt"}}}
  ]
}
],
"bounds": "flush",
"spacing": 93,
"resolve": {"scale": {"color": "independent", "shape": "independent"}, "legend": {"color": "independent", "shape": "independent"}}
}
]
}
